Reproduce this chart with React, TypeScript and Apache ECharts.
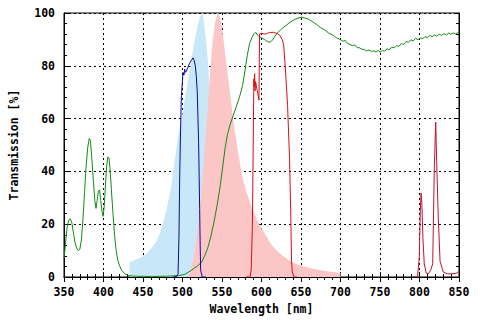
import { useEffect, useRef } from "react";
import * as echarts from "echarts";

// x-axis: wavelength [nm], y-axis: transmission [%]
const xMin = 350;
const xMax = 850;
const yMin = 0;
const yMax = 100;

// Excitation spectrum (light blue filled)
const excitation: [number, number][] = [
  [433, 5.6], [440, 6.5], [448, 7.5], [455, 9], [461, 11], [466, 13], [470, 15.5],
  [475, 20], [480, 26], [485, 33], [490, 44], [495, 54], [500, 62], [505, 71],
  [510, 80], [515, 89], [519, 95], [522, 98.5], [525, 100], [527, 97], [530, 89],
  [532, 82], [534, 72], [537, 52], [540, 30], [544, 10], [548, 0],
];

// Emission spectrum (pink filled)
const emission: [number, number][] = [
  [505, 0], [509, 1], [513, 6], [517.5, 14], [522, 25], [526, 40], [529, 53],
  [532, 64], [535, 78], [538, 89], [541, 96], [544.5, 100], [548, 98], [551, 92],
  [555, 82], [560, 70], [565, 58], [570, 48], [575, 39], [580, 33], [587, 27],
  [595, 21], [600, 18.5], [606, 15.5], [612, 12.5], [618, 10.3], [625, 8.5],
  [631, 7.1], [637, 6], [643, 5.1], [650, 4.4], [660, 3.5], [675, 2.6],
  [688, 2], [700, 1.5],
];

// Long-pass filter (green line)
const longPass: [number, number][] = [
  [350, 7], [352, 13], [354, 19], [356, 21.5], [358, 22], [360, 20.5], [362, 16.5],
  [364, 13], [366, 11], [368, 10], [370, 10.5], [372, 14], [374, 22], [376, 32],
  [378, 42], [380, 49], [382, 52.5], [383.5, 51.5], [385, 46], [387, 37], [389, 29],
  [390.5, 26], [392, 29], [393.5, 32.5], [395, 33], [396.5, 29], [398, 25],
  [399.5, 23], [401, 27], [402.5, 35], [404, 42], [405.5, 45.5], [407, 45],
  [408.5, 40], [410, 33], [412, 24], [414, 16], [416, 10], [418, 6.5], [420, 4.5],
  [423, 2.5], [427, 1.2], [432, 0.5], [440, 0.3], [460, 0.2], [480, 0.3],
  [495, 0.5], [503, 1], [511, 2.5], [518, 4], [524, 5.5], [528, 8], [532, 11],
  [536, 15.5], [540, 21], [544, 27.5], [548, 35], [551, 42], [554, 49], [557, 54],
  [560, 57.5], [564, 61], [568, 64.5], [572, 68], [576, 72.5], [579, 78], [582, 84],
  [585, 88.5], [588, 90.8], [591, 92.3], [593, 92.6], [595, 91.6], [597, 91],
  [600, 90.6], [604, 89.9], [608, 89.1], [611, 88.9], [614, 89.8], [617, 91.2],
  [620, 92.4], [624, 93.6], [628, 94.6], [632, 95.5], [636, 96.5], [640, 97.2],
  [645, 97.9], [650, 98.4], [655, 98.1], [660, 97.6], [665, 96.6], [670, 95.6],
  [675, 94.4], [680, 93.6], [685, 92.4], [690, 91.7], [695, 90.6], [700, 89.9],
  [703, 89.3], [706, 89.6], [709, 88.4], [712, 88.1], [715, 87.6], [718, 87.9],
  [721, 86.9], [724, 86.8], [727, 86.3], [730, 86.2], [733, 85.6], [736, 86.0],
  [739, 85.4], [742, 85.7], [745, 85.2], [748, 85.9], [750, 85.1], [753, 85.8],
  [756, 85.6], [759, 86.4], [762, 86.2], [765, 87.0], [768, 86.8], [771, 87.6],
  [774, 87.4], [777, 88.4], [780, 88.1], [783, 89.2], [786, 88.9], [789, 89.8],
  [792, 89.4], [795, 90.4], [798, 89.9], [801, 90.6], [804, 90.2], [807, 91.1],
  [810, 90.6], [813, 91.5], [816, 91.0], [819, 91.7], [822, 91.2], [825, 92.0],
  [828, 91.5], [831, 92.2], [834, 91.7], [837, 92.4], [840, 91.9], [843, 92.5],
  [846, 92.0], [848, 92.6], [850, 92.2],
];

// Band-pass filter (blue line)
const bandPassBlue: [number, number][] = [
  [488, 0], [493, 0.3], [494.4, 1.2], [495.5, 15], [496.5, 38.7], [497.5, 55],
  [498.6, 68.7], [500.7, 77.5], [501.8, 76.5], [502.8, 78.7], [503.8, 77.5],
  [505, 78], [507, 79.5], [509, 81], [511, 82], [513.3, 83], [514.8, 82],
  [516.2, 80], [517.5, 76], [518.7, 70], [519.6, 60], [520.4, 51], [521.1, 38],
  [521.7, 26], [522.4, 12], [523, 2.5], [525, 0], [530, 0],
];

// Band-pass filter (red line, orange band)
const bandPassRed: [number, number][] = [
  [580, 0], [585.5, 0], [587, 3], [588.5, 20], [589.5, 50], [590.3, 75],
  [590.8, 72], [591.3, 77], [591.8, 70.5], [592.5, 74], [596.8, 67],
  [597.5, 92], [600, 92.3], [605, 92], [610, 92.6], [615, 92.7], [620, 92.2],
  [623, 91.6], [626, 90], [628, 88], [629.5, 82], [631, 75], [633, 65],
  [635.5, 45], [637, 25], [638, 6], [639, 2], [641, 0], [645, 0],
];

// Near-IR peaks (dark red line)
const irPeaks: [number, number][] = [
  [793, 0], [797.5, 0], [799.7, 7.5], [801, 25], [802, 31.8], [803, 27.5],
  [804.3, 15], [806, 5], [808.5, 1.5], [811, 1.2], [814, 2.5], [816.7, 5],
  [818.8, 42], [820.5, 58.7], [821.7, 43.7], [823.8, 22.5], [826, 6],
  [830, 1.9], [835, 1.2], [840, 1.2], [845, 1.3], [848, 1.6], [850, 2],
];

const FONT = "DejaVu Sans Mono";

export default function App() {
  const ref = useRef<HTMLDivElement>(null);

  useEffect(() => {
    if (!ref.current) return;
    const chart = echarts.init(ref.current, undefined, { renderer: "svg" });

    const labelStyle = {
      fontFamily: FONT,
      fontWeight: "bold" as const,
      fontSize: 11.5,
      color: "#000",
    };
    const tickStyle = { color: "#000", width: 1 };
    const splitStyle = { color: "#000", width: 1, type: [2, 3] as number[] };

    chart.setOption({
      animation: false,
      backgroundColor: "#fff",
      grid: {
        left: 62,
        right: 21,
        top: 13,
        bottom: 40,
        show: true,
        borderColor: "#000",
        borderWidth: 1,
        backgroundColor: "#fff",
      },
      xAxis: [
        {
          type: "value",
          min: xMin,
          max: xMax,
          interval: 50,
          position: "bottom",
          name: "Wavelength [nm]",
          nameLocation: "middle",
          nameGap: 26,
          nameTextStyle: labelStyle,
          axisLine: { show: true, lineStyle: tickStyle },
          axisTick: { show: true, inside: true, length: 5, lineStyle: tickStyle },
          minorTick: { show: true, splitNumber: 5, length: 3, lineStyle: tickStyle },
          axisLabel: { ...labelStyle, margin: 9 },
          splitLine: { show: true, lineStyle: splitStyle },
        },
        {
          type: "value",
          min: xMin,
          max: xMax,
          interval: 50,
          position: "top",
          axisLine: { show: true, lineStyle: tickStyle },
          axisTick: { show: true, inside: true, length: 5, lineStyle: tickStyle },
          minorTick: { show: true, splitNumber: 5, length: 3, lineStyle: tickStyle },
          axisLabel: { show: false },
          splitLine: { show: false },
        },
      ],
      yAxis: [
        {
          type: "value",
          min: yMin,
          max: yMax,
          interval: 20,
          position: "left",
          name: "Transmission [%]",
          nameLocation: "middle",
          nameGap: 44,
          nameTextStyle: labelStyle,
          axisLine: { show: true, lineStyle: tickStyle },
          axisTick: { show: true, inside: true, length: 5, lineStyle: tickStyle },
          minorTick: { show: true, splitNumber: 5, length: 3, lineStyle: tickStyle },
          axisLabel: { ...labelStyle, margin: 9 },
          splitLine: { show: true, lineStyle: splitStyle },
        },
        {
          type: "value",
          min: yMin,
          max: yMax,
          interval: 20,
          position: "right",
          axisLine: { show: true, lineStyle: tickStyle },
          axisTick: { show: true, inside: true, length: 5, lineStyle: tickStyle },
          minorTick: { show: true, splitNumber: 5, length: 3, lineStyle: tickStyle },
          axisLabel: { show: false },
          splitLine: { show: false },
        },
      ],
      series: [
        {
          type: "line",
          data: excitation,
          symbol: "none",
          lineStyle: { width: 0 },
          areaStyle: { color: "#c8e8fa", opacity: 1 },
          z: 1,
        },
        {
          type: "line",
          data: emission,
          symbol: "none",
          lineStyle: { width: 0 },
          areaStyle: { color: "#fdc6c6", opacity: 1 },
          z: 2,
        },
        {
          type: "line",
          data: longPass,
          symbol: "none",
          lineStyle: { width: 1, color: "#138a13" },
          z: 3,
        },
        {
          type: "line",
          data: bandPassBlue,
          symbol: "none",
          lineStyle: { width: 1, color: "#0a0a9c" },
          z: 4,
        },
        {
          type: "line",
          data: bandPassRed,
          symbol: "none",
          lineStyle: { width: 1, color: "#d81010" },
          z: 5,
        },
        {
          type: "line",
          data: irPeaks,
          symbol: "none",
          lineStyle: { width: 1, color: "#c01030" },
          z: 5,
        },
      ],
    });

    return () => chart.dispose();
  }, []);

  return <div ref={ref} style={{ width: 480, height: 320, position: "fixed", left: 0, top: 0 }} />;
}
